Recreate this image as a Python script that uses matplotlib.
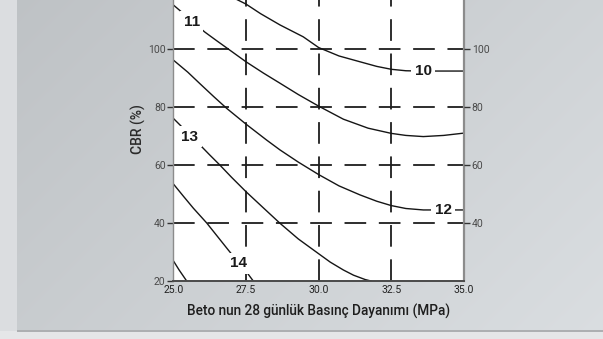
import numpy as np
import matplotlib
matplotlib.use("Agg")
from matplotlib import pyplot as plt

# === DATA ===
strength_10 = [26.9, 27.5, 28.0, 28.67, 29.47, 30.0, 30.7, 31.42, 32.0, 32.5, 33.0, 33.5, 35.0]
cbr_10 = [118.5, 115.5, 112.2, 108.3, 104.2, 100.5, 97.6, 95.6, 94.0, 93.0, 92.5, 92.4, 92.4]

strength_11 = [25.0, 25.34, 25.63, 26.09, 26.5, 26.89, 27.5, 28.1, 28.67, 29.3, 30.0,
               30.85, 31.7, 32.5, 33.0, 33.6, 34.3, 35.0]
cbr_11 = [115.2, 112.3, 109.6, 105.8, 102.8, 100.0, 95.6, 91.7, 88.2, 84.3, 80.3,
          75.8, 72.7, 70.9, 70.2, 69.8, 70.2, 71.0]

strength_12 = [25.0, 25.5, 25.92, 26.4, 26.84, 27.5, 28.21, 28.67, 29.3, 30.0, 30.7,
               31.42, 32.0, 32.5, 33.0, 33.6, 35.0]
cbr_12 = [96.2, 92.0, 88.0, 83.5, 79.5, 74.1, 68.6, 65.2, 61.0, 56.7, 52.8,
          49.7, 47.5, 46.0, 45.0, 44.5, 44.5]

strength_13 = [25.0, 25.29, 25.57, 25.92, 26.25, 26.6, 27.0, 27.5, 28.1, 28.67, 29.3,
               30.0, 30.4, 30.85, 31.2, 31.6, 31.8]
cbr_13 = [76.1, 73.2, 70.2, 66.9, 63.5, 60.0, 55.8, 50.8, 45.2, 39.9, 34.5,
          29.4, 26.5, 23.8, 22.0, 20.5, 20.0]

strength_14 = [25.0, 25.35, 25.69, 26.15, 26.5, 26.89, 27.24, 27.55, 27.75]
cbr_14 = [53.5, 49.2, 45.1, 40.0, 35.6, 30.7, 26.4, 22.7, 20.0]

strength_15 = [25.0, 25.2, 25.46]
cbr_15 = [27.0, 23.8, 20.0]

curve_labels = ["10", "11", "12", "13", "14"]
label_x = [33.6, 25.63, 34.28, 25.57, 27.24]
label_y = [92.3, 109.4, 44.6, 69.8, 26.1]

x_ticks = [25.0, 27.5, 30.0, 32.5, 35.0]
x_tick_labels = ["25.0", "27.5", "30.0", "32.5", "35.0"]
y_ticks_left = [20, 40, 60, 80, 100]
y_ticks_right = [40, 60, 80, 100]
x_grid = [27.5, 30.0, 32.5]
y_grid = [40, 60, 80, 100]

narrow = ["Roboto", "DejaVu Sans"]

# === FIGURE + SCANNED PAPER BACKGROUND ===
fig = plt.figure(figsize=(6.03, 3.39), dpi=100)
bg_ax = fig.add_axes([0, 0, 1, 1])
h, w = 339, 603
xx = np.linspace(0, 1, w)[None, :]
yy = np.linspace(0, 1, h)[:, None]
shade = 0.76 + 0.07 * xx + 0.04 * yy
bg = np.dstack([shade - 0.015, shade, shade + 0.012])
bg[:, :17] = [0.86, 0.87, 0.88]
bg[331:, :] = [0.90, 0.905, 0.91]
bg[330:332, 17:] = [0.68, 0.69, 0.70]
bg_ax.imshow(np.clip(bg, 0, 1), aspect="auto", extent=[0, 1, 0, 1])
bg_ax.set_axis_off()

# === MAIN AXES ===
ax = fig.add_axes([0.2874, 0.1711, 0.4821, 0.8982])
ax.set_facecolor("white")
ax.set_xlim(25, 35)
ax.set_ylim(20, 125)

grid_style = dict(color="#1e1e1e", lw=1.3, dashes=(12, 7), zorder=1)
for gx in x_grid:
    ax.axvline(gx, **grid_style)
for gy in y_grid:
    ax.axhline(gy, **grid_style)

curves = [
    (strength_10, cbr_10), (strength_11, cbr_11), (strength_12, cbr_12),
    (strength_13, cbr_13), (strength_14, cbr_14), (strength_15, cbr_15),
]
for xs, ys in curves:
    ax.plot(xs, ys, color="#151515", lw=1.0, zorder=2)

for text, lx, ly in zip(curve_labels, label_x, label_y):
    ax.text(lx, ly, text, ha="center", va="center", fontsize=11, fontweight="bold",
            family=["Liberation Sans", "DejaVu Sans"], color="#1a1a1a", zorder=3,
            bbox=dict(boxstyle="square,pad=0.22", fc="white", ec="none"))

ax.spines["top"].set_visible(False)
ax.spines["left"].set_color("#8c8c8c")
ax.spines["left"].set_linewidth(1.0)
ax.spines["right"].set_color("#8c8c8c")
ax.spines["right"].set_linewidth(1.6)
ax.spines["bottom"].set_color("#4a4a4a")
ax.spines["bottom"].set_linewidth(1.4)

ax.set_xticks(x_ticks)
ax.set_xticklabels(x_tick_labels, family=narrow, fontsize=7.5, color="#222222")
ax.tick_params(axis="x", length=0, pad=3)

ax.set_yticks(y_ticks_left)
ax.set_yticklabels([str(v) for v in y_ticks_left], family=narrow, fontsize=7.5, color="#4a4a4a")
ax.tick_params(axis="y", length=4, width=1.0, color="#333333", pad=1.5, direction="out")

ax_r = ax.twinx()
ax_r.set_ylim(ax.get_ylim())
ax_r.set_yticks(y_ticks_right)
ax_r.set_yticklabels([str(v) for v in y_ticks_right], family=narrow, fontsize=7.5, color="#4a4a4a")
ax_r.tick_params(axis="y", length=4, width=1.0, color="#333333", pad=1.5, direction="out")
for side in ["top", "left", "bottom", "right"]:
    ax_r.spines[side].set_visible(False)

ax.set_xlabel("Beto nun 28 günlük Basınç Dayanımı (MPa)", family=narrow,
              fontsize=9.8, fontweight="medium", color="#1e1e1e", labelpad=6)
ax.set_ylabel("CBR (%)", family=narrow, fontsize=10, fontweight="medium",
              color="#2a2a2a", labelpad=1.5)

fig.savefig("out.png", dpi=100)
